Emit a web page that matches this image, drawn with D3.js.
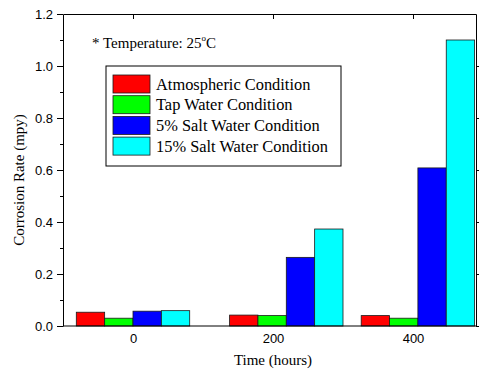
<!DOCTYPE html>
<html>
<head>
<meta charset="utf-8">
<script src="https://cdn.jsdelivr.net/npm/d3@7"></script>
<style>
  body { margin: 0; background: #fff; }
  .serif { font-family: "Liberation Serif", "Times New Roman", serif; }
  .tick text { font-family: "Liberation Sans", Arial, sans-serif; font-size: 13px; fill: #000; }
</style>
</head>
<body>
<svg id="chart" width="480" height="372"></svg>
<script>
// data
const timeTicks = [0, 200, 400];
const groupTimes = [0, 219, 407];
const seriesNames = ['Atmospheric Condition', 'Tap Water Condition', '5% Salt Water Condition', '15% Salt Water Condition'];
const seriesColors = ['#ff0000', '#00ff00', '#0000ff', '#00ffff'];
const atmospheric = [0.053, 0.042, 0.040];
const tapWater = [0.030, 0.040, 0.030];
const salt5 = [0.057, 0.264, 0.608];
const salt15 = [0.059, 0.373, 1.100];
const yTicks = [0, 0.2, 0.4, 0.6, 0.8, 1.0, 1.2];
const yMinorTicks = [0.1, 0.3, 0.5, 0.7, 0.9, 1.1];

const series = [atmospheric, tapWater, salt5, salt15];
const barWidth = 40.5; // in hours, as Origin draws it

const svg = d3.select('#chart');
const plotLeft = 63, plotRight = 476, plotTop = 14, plotBottom = 326;

const x = d3.scaleLinear().domain([-100, 490]).range([plotLeft, plotRight]);
const y = d3.scaleLinear().domain([0, 1.2]).range([plotBottom, plotTop]);

// bottom ticks point inward and sit under the bars
svg.append('g')
  .attr('transform', `translate(0,${plotBottom})`)
  .call(d3.axisBottom(x).tickValues(timeTicks).tickSizeInner(-5).tickSizeOuter(0).tickPadding(8))
  .call(g => g.select('.domain').remove())
  .call(g => g.selectAll('.tick line').attr('stroke', '#000'));

// bars
series.forEach((vals, i) => {
  svg.append('g')
    .selectAll('rect')
    .data(vals)
    .enter().append('rect')
    .attr('x', (d, j) => x(groupTimes[j] + (i - 2) * barWidth))
    .attr('y', d => y(d))
    .attr('width', x(barWidth) - x(0))
    .attr('height', d => plotBottom - y(d))
    .attr('fill', seriesColors[i])
    .attr('stroke', '#1a1a1a')
    .attr('stroke-width', 0.8);
});

// left axis
svg.append('g')
  .attr('transform', `translate(${plotLeft},0)`)
  .call(d3.axisLeft(y).tickValues(yTicks).tickFormat(d3.format('.1f')).tickSize(6).tickSizeOuter(0).tickPadding(4))
  .call(g => g.selectAll('line, path').attr('stroke', '#000'));

svg.append('g')
  .attr('transform', `translate(${plotLeft},0)`)
  .call(d3.axisLeft(y).tickValues(yMinorTicks).tickFormat('').tickSize(3).tickSizeOuter(0))
  .call(g => g.select('.domain').remove())
  .call(g => g.selectAll('line').attr('stroke', '#000'));

// right axis, no labels
svg.append('g')
  .attr('transform', `translate(${plotRight},0)`)
  .call(d3.axisRight(y).tickValues(yTicks.slice(0, -1)).tickFormat('').tickSize(3).tickSizeOuter(0))
  .call(g => g.selectAll('line, path').attr('stroke', '#000'));

// top axis, ticks inward
svg.append('g')
  .attr('transform', `translate(0,${plotTop})`)
  .call(d3.axisTop(x).tickValues(timeTicks).tickFormat('').tickSizeInner(-5).tickSizeOuter(0))
  .call(g => g.selectAll('line, path').attr('stroke', '#000'));

// bottom spine on top of the bars
svg.append('line')
  .attr('x1', plotLeft).attr('x2', plotRight)
  .attr('y1', plotBottom).attr('y2', plotBottom)
  .attr('stroke', '#000');

// axis titles
svg.append('text')
  .attr('class', 'serif')
  .attr('x', 273)
  .attr('y', 365)
  .attr('text-anchor', 'middle')
  .attr('font-size', 15)
  .text('Time (hours)');

svg.append('text')
  .attr('class', 'serif')
  .attr('transform', 'translate(24,180) rotate(-90)')
  .attr('text-anchor', 'middle')
  .attr('font-size', 15)
  .text('Corrosion Rate (mpy)');

// note
const note = svg.append('text')
  .attr('class', 'serif')
  .attr('x', 92)
  .attr('y', 48)
  .attr('font-size', 15);
note.append('tspan').text('* Temperature: 25');
note.append('tspan').attr('font-size', 9).attr('dy', -7).text('o');
note.append('tspan').attr('dy', 7).text('C');

// legend
const legend = svg.append('g').attr('transform', 'translate(106,66)');
legend.append('rect')
  .attr('width', 235).attr('height', 100)
  .attr('fill', '#fff').attr('stroke', '#000');

const rows = legend.selectAll('g.row')
  .data(seriesNames)
  .enter().append('g')
  .attr('class', 'row')
  .attr('transform', (d, i) => `translate(7,${9 + i * 20.7})`);

rows.append('rect')
  .attr('width', 37).attr('height', 18)
  .attr('fill', (d, i) => seriesColors[i])
  .attr('stroke', '#1a1a1a').attr('stroke-width', 0.8);

rows.append('text')
  .attr('class', 'serif')
  .attr('x', 43)
  .attr('y', 9)
  .attr('dy', '0.35em')
  .attr('font-size', 16.4)
  .text(d => d);
</script>
</body>
</html>
